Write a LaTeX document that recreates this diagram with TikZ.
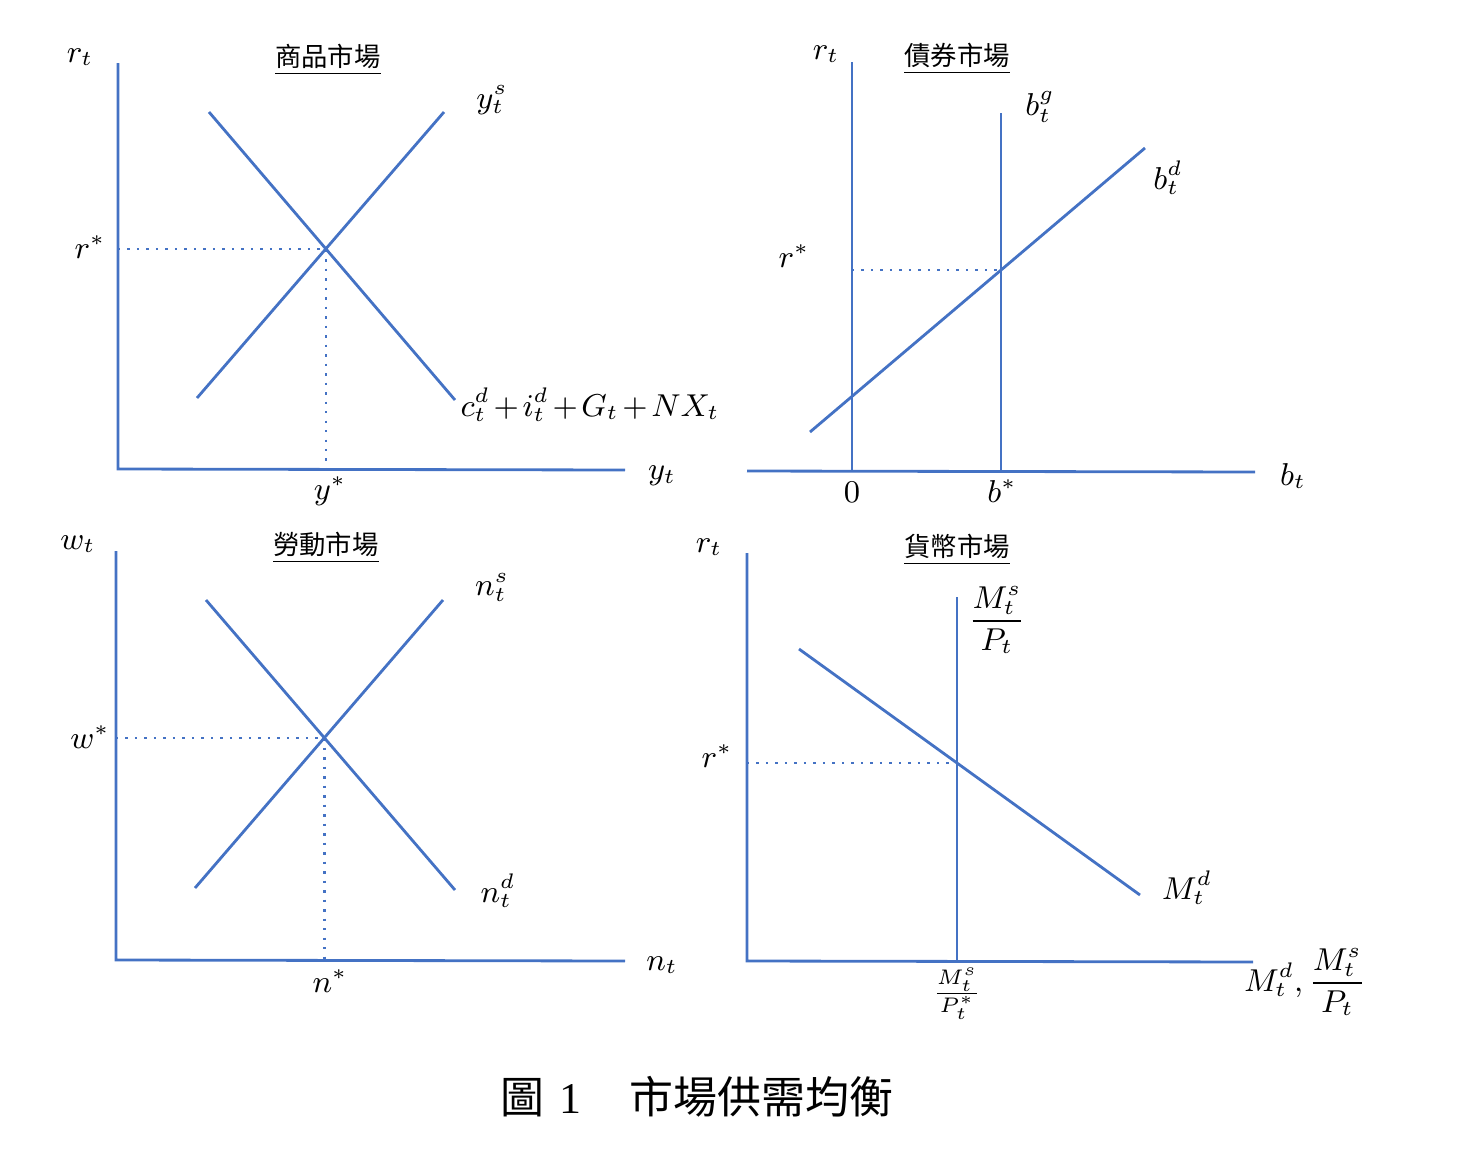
\documentclass[tikz,border=0pt]{standalone}
\usepackage{amsmath}
\usepackage{fontspec}
\newfontfamily\cjk{Noto Sans CJK TC}
\newfontfamily\capfont{Liberation Serif}
\usetikzlibrary{positioning}
\definecolor{lineblue}{HTML}{4472C4}

\begin{document}
\begin{tikzpicture}[x=0.1mm, y=-0.1mm,
    curve/.style={draw=lineblue, line width=0.8pt},
    guide/.style={draw=lineblue, dotted, line width=0.7pt},
    lbl/.style={inner sep=1pt, font=\fontsize{9}{11}\selectfont},
    mkt/.style={inner sep=1pt, font=\cjk\fontsize{7.5}{9}\selectfont}]
  \useasboundingbox (0,0) rectangle (1458,1176);

  % goods market
  \coordinate (O1) at (118,469);
  \draw[curve] (118,63) -- (O1) -- (625,470);
  \draw[curve] (197,398) -- (444,112);
  \draw[curve] (209,112) -- (455,400);
  \coordinate (E1) at (intersection of 197,398--444,112 and 209,112--455,400);
  \draw[guide] (E1 -| O1) -- (E1) -- (E1 |- O1);
  \node[lbl] (r1) at (80,57) {$r_t$};
  \node[mkt] (t1) at (328,60) {\underline{商品市場}};
  \node[lbl] (ys) at (492,100) {$y_t^s$};
  \node[lbl] (rs1) at (90,247) {$r^*$};
  \node[lbl] (yd) at (590,405) {\medmuskip=2mu $c_t^d+i_t^d+G_t+NX_t$};
  \node[lbl] (y1) at (662,476) {$y_t$};
  \node[lbl] (ystar) at (330,491) {$y^*$};

  % bond market
  \coordinate (O2) at (852,471);
  \draw[curve] (852,62) -- (O2);
  \draw[curve] (747,471) -- (1255,472);
  \draw[curve] (1001,113) -- (1001,471);
  \draw[curve] (810,432) -- (1145,148);
  \coordinate (E2) at (intersection of 810,432--1145,148 and 1001,113--1001,471);
  \draw[guide] (E2 -| O2) -- (E2);
  \node[lbl] (r2) at (826,54) {$r_t$};
  \node[mkt] (t2) at (957,59) {\underline{債券市場}};
  \node[lbl] (bg) at (1040,107) {$b_t^g$};
  \node[lbl] (bd) at (1168,178) {$b_t^d$};
  \node[lbl] (rs2) at (794,256) {$r^*$};
  \node[lbl] (zero) at (852,492) {$0$};
  \node[lbl] (bstar) at (1002,491) {$b^*$};
  \node[lbl] (b2) at (1293,476) {$b_t$};

  % labour market
  \coordinate (O3) at (116,960);
  \draw[curve] (116,551) -- (O3) -- (625,961);
  \draw[curve] (195,888) -- (443,600);
  \draw[curve] (206,600) -- (455,890);
  \coordinate (E3) at (intersection of 195,888--443,600 and 206,600--455,890);
  \draw[guide] (E3 -| O3) -- (E3) -- (E3 |- O3);
  \node[lbl] (w3) at (78,544) {$w_t$};
  \node[mkt] (t3) at (326,548) {\underline{勞動市場}};
  \node[lbl] (ns) at (492,587) {$n_t^s$};
  \node[lbl] (wstar) at (90,737) {$w^*$};
  \node[lbl] (nd) at (498,891) {$n_t^d$};
  \node[lbl] (n3) at (662,965) {$n_t$};
  \node[lbl] (nstar) at (330,981) {$n^*$};

  % money market
  \coordinate (O4) at (747,961);
  \draw[curve] (747,553) -- (O4) -- (1253,962);
  \draw[curve] (957,597) -- (957,961);
  \draw[curve] (799,649) -- (1140,895);
  \coordinate (E4) at (intersection of 799,649--1140,895 and 957,597--957,961);
  \draw[guide] (E4 -| O4) -- (E4);
  \node[lbl] (r4) at (709,547) {$r_t$};
  \node[mkt] (t4) at (957,550) {\underline{貨幣市場}};
  \node[lbl] (ms) at (997,620) {$\dfrac{M_t^s}{P_t}$};
  \node[lbl] (rs4) at (717,756) {$r^*$};
  \node[lbl] (md) at (1187,888) {$M_t^d$};
  \node[lbl] (mstar) at (957,994) {$\frac{M_t^s}{P_t^*}$};
  \node[lbl] (m4) at (1305,982) {$M_t^d,\dfrac{M_t^s}{P_t}$};

  % caption
  \node[inner sep=0pt, font=\fontsize{12.5}{15}\selectfont] (cap) at (697,1097)
    {{\cjk 圖}\ {\capfont 1}\hspace{1.1em}{\cjk 市場供需均衡}};
\end{tikzpicture}
\end{document}
